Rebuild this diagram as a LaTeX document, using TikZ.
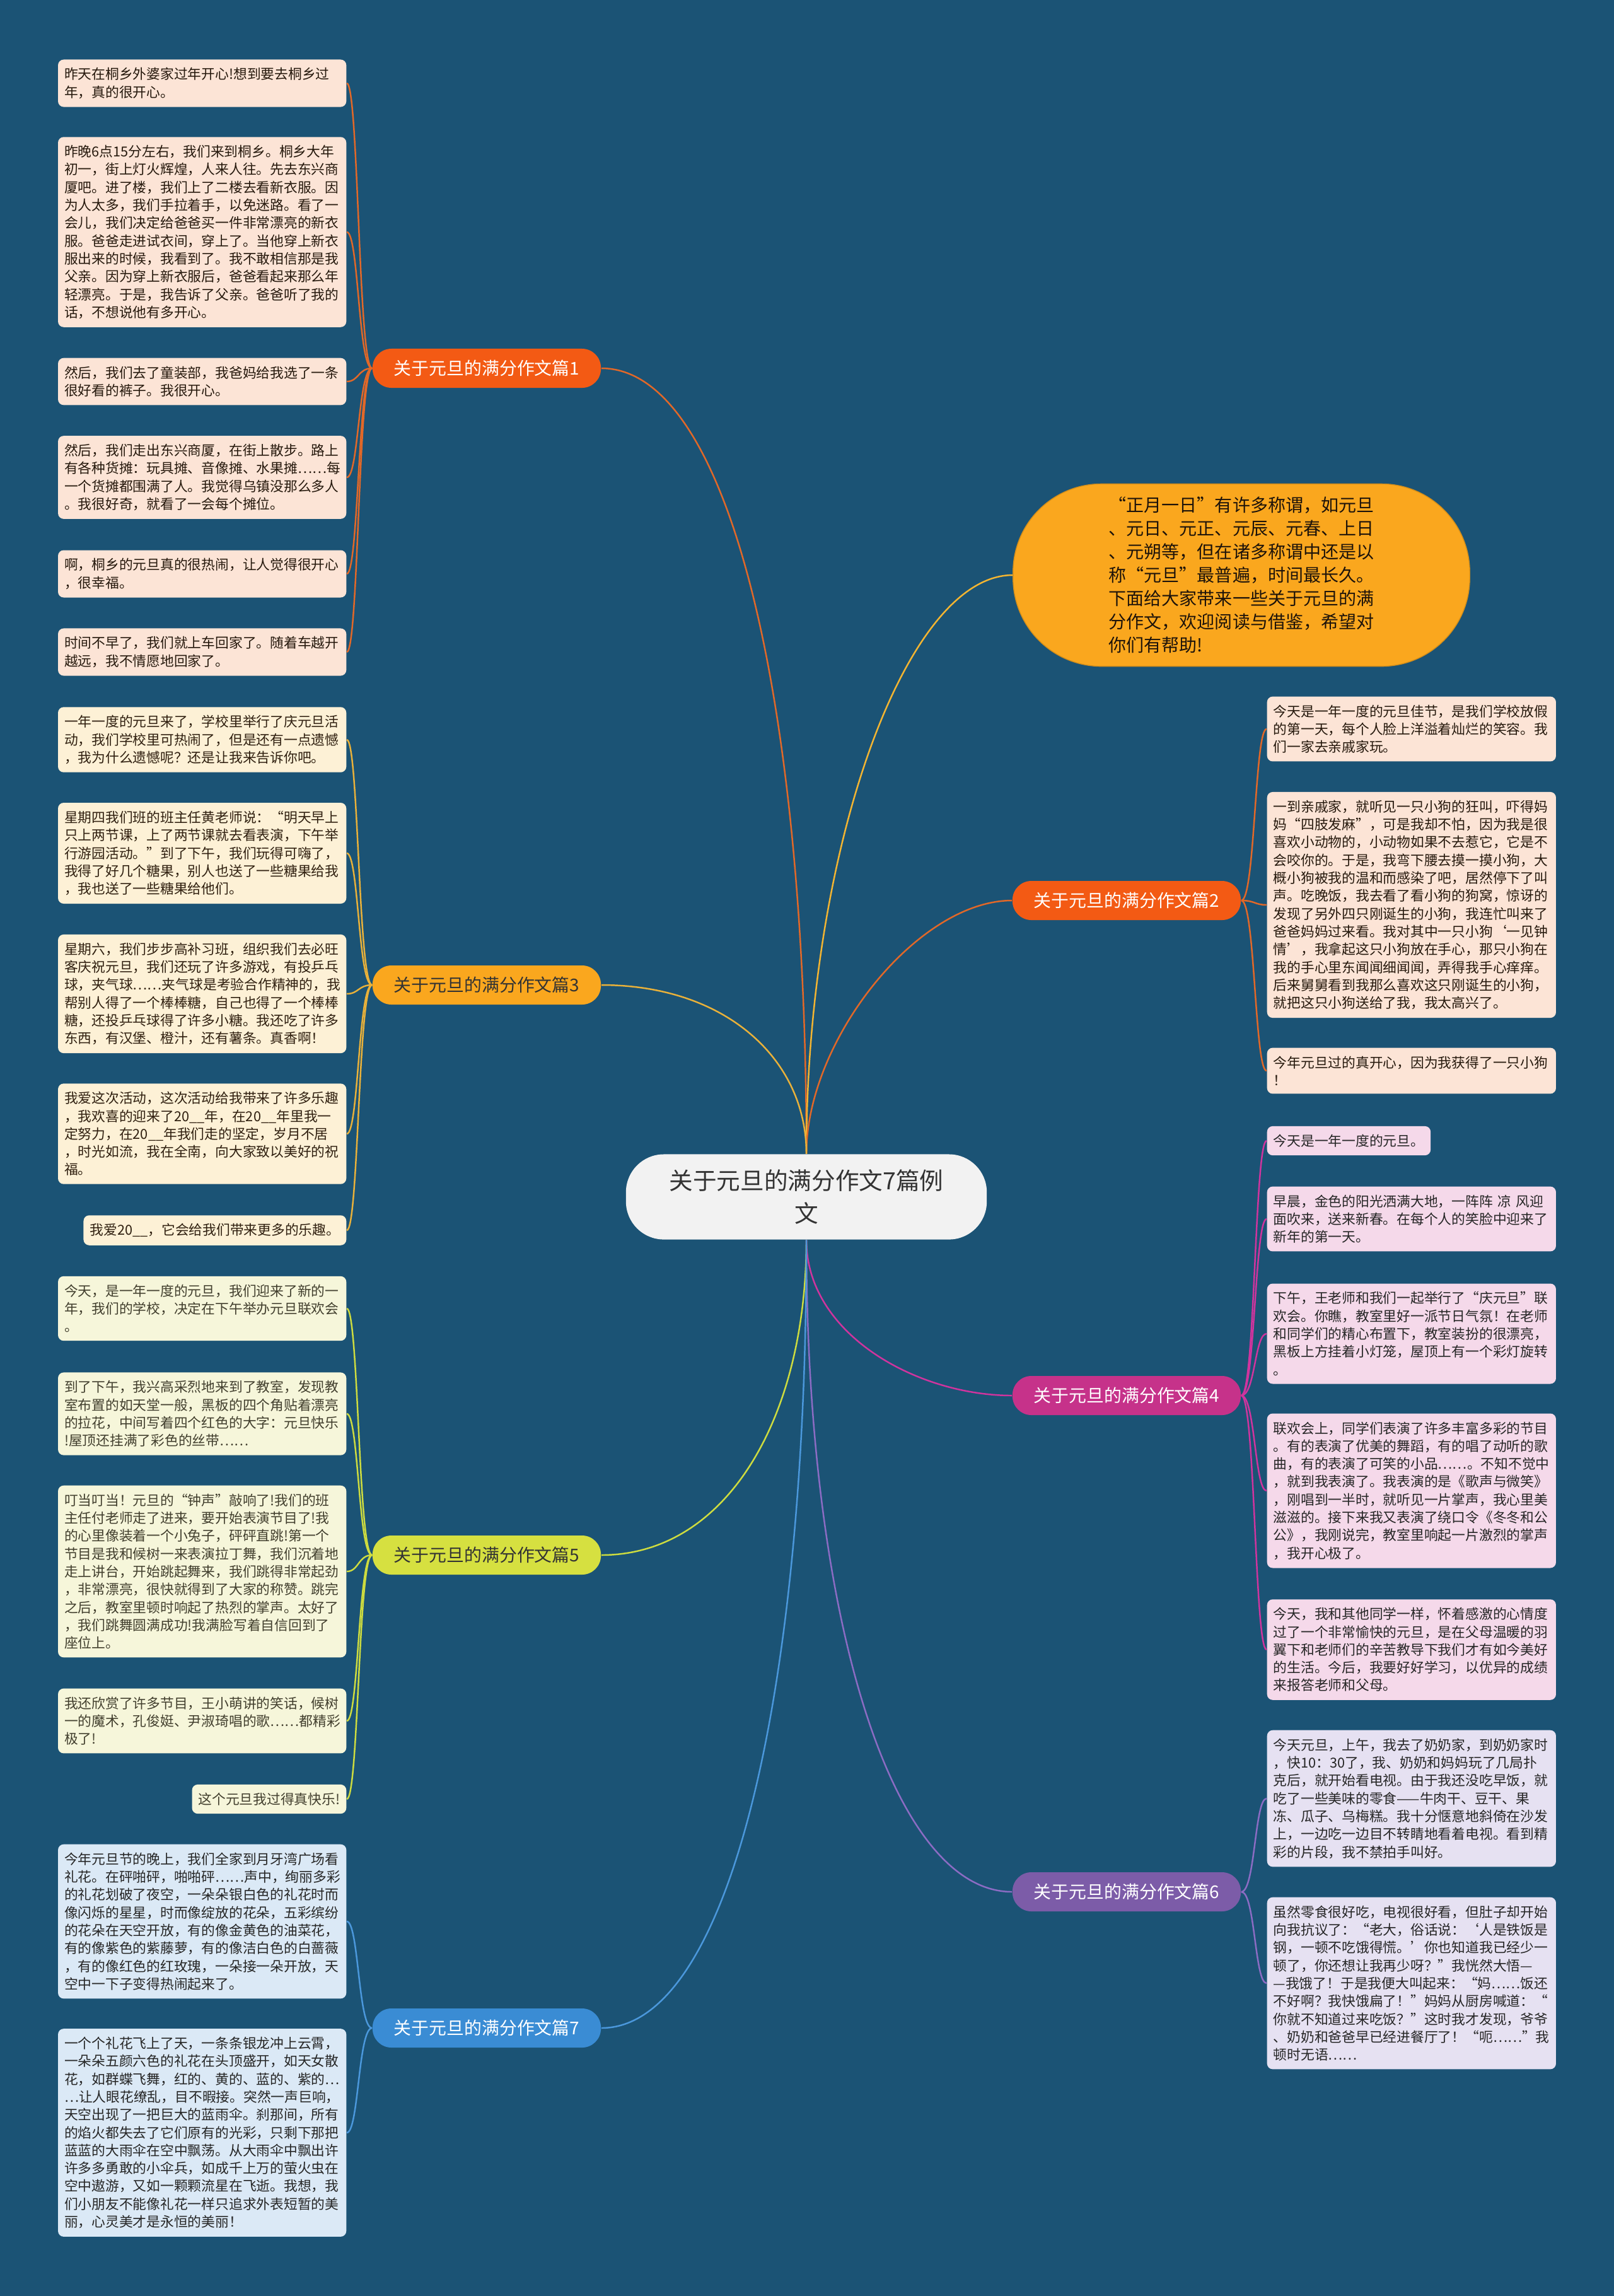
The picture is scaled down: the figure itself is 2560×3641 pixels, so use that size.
\documentclass[tikz,border=0pt]{standalone}
\usepackage{fontspec}
\setmainfont{Noto Sans CJK SC}
\usetikzlibrary{positioning}
\definecolor{bgblue}{RGB}{27,83,117}
\definecolor{orred}{RGB}{243,90,20}
\definecolor{peach}{RGB}{252,228,214}
\definecolor{amber}{RGB}{250,167,30}
\definecolor{cream}{RGB}{253,241,214}
\definecolor{magen}{RGB}{198,50,138}
\definecolor{pinkb}{RGB}{245,217,234}
\definecolor{limeg}{RGB}{214,224,64}
\definecolor{paleg}{RGB}{246,246,218}
\definecolor{purp}{RGB}{124,92,168}
\definecolor{lavb}{RGB}{230,225,242}
\definecolor{bluet}{RGB}{58,140,212}
\definecolor{skyb}{RGB}{219,233,246}
\definecolor{rootfill}{RGB}{242,242,242}
\definecolor{conn1}{RGB}{226,104,40}
\definecolor{conn3}{RGB}{233,177,58}
\definecolor{conn0}{RGB}{244,181,49}
\definecolor{conn4}{RGB}{208,52,158}
\definecolor{conn5}{RGB}{206,220,63}
\definecolor{conn6}{RGB}{140,108,196}
\definecolor{conn7}{RGB}{75,152,220}
\tikzset{topic/.style = {rounded corners=0.3cm, minimum width=3.62cm, minimum height=0.62cm,
                         text height=6.9pt, text depth=1pt, font=\fontsize{7.93pt}{9pt}\selectfont}}
\tikzset{box/.style = {rounded corners=0.09cm, align=left, inner xsep=0.1cm, inner ysep=3.7pt,
                       font=\fontsize{6.19pt}{8.05pt}\selectfont}}
\tikzset{boxl/.style = {box, anchor=east, text width=4.37cm}}
\tikzset{boxr/.style = {box, anchor=west, text width=4.38cm}}
\tikzset{shortbox/.style = {text width=, minimum width=0pt}}
\tikzset{leaf1/.style = {boxl, fill=peach, text=black!80!brown}}
\tikzset{leaf2/.style = {boxr, fill=peach, text=black!80!brown}}
\tikzset{leaf3/.style = {boxl, fill=cream, text=black!75!brown}}
\tikzset{leaf4/.style = {boxr, fill=pinkb, text=black!85}}
\tikzset{leaf5/.style = {boxl, fill=paleg, text=black!70!olive}}
\tikzset{leaf6/.style = {boxr, fill=lavb, text=black!85}}
\tikzset{leaf7/.style = {boxl, fill=skyb, text=black!85}}
\tikzset{link/.style = {line width=0.7pt}}

\begin{document}
\begin{tikzpicture}[x=0.01cm, y=-0.01cm]
  \fill[bgblue] (0,0) rectangle (2560,3641);
  \useasboundingbox (0,0) rectangle (2560,3641);

  \node (root) [rounded corners=0.6cm, fill=rootfill, text=black!80, minimum width=5.72cm, minimum height=1.35cm,
    align=center, font=\fontsize{10.7pt}{14.8pt}\selectfont] at (1279,1898) {关于元旦的满分作文7篇例\\文};

  \node (intro) [rounded corners=1.4cm, fill=amber, draw=amber!85!black, line width=0.4pt, minimum width=7.24cm,
    minimum height=2.89cm, align=left, text=black!85!brown, font=\fontsize{7.97pt}{10.5pt}\selectfont] at (1969,912)
    {“正月一日”有许多称谓，如元旦\\、元日、元正、元辰、元春、上日\\、元朔等，但在诸多称谓中还是以\\称“元旦”最普遍，时间最长久。\\下面给大家带来一些关于元旦的满\\分作文，欢迎阅读与借鉴，希望对\\你们有帮助!};

  \node (t1) [topic, fill=orred, text=white] at (772,584) {关于元旦的满分作文篇1};
  \node (t2) [topic, fill=orred, text=white] at (1787,1428) {关于元旦的满分作文篇2};
  \node (t3) [topic, fill=amber, text=black!80] at (772,1562) {关于元旦的满分作文篇3};
  \node (t4) [topic, fill=magen, text=white] at (1787,2213) {关于元旦的满分作文篇4};
  \node (t5) [topic, fill=limeg, text=black!80] at (772,2466) {关于元旦的满分作文篇5};
  \node (t6) [topic, fill=purp, text=white] at (1787,3000) {关于元旦的满分作文篇6};
  \node (t7) [topic, fill=bluet, text=white] at (772,3216) {关于元旦的满分作文篇7};

  \node (t1a) [leaf1] at (550,132) {昨天在桐乡外婆家过年开心!想到要去桐乡过\\年，真的很开心。};
  \node (t1b) [leaf1] at (550,368) {昨晚6点15分左右，我们来到桐乡。桐乡大年\\初一，街上灯火辉煌，人来人往。先去东兴商\\厦吧。进了楼，我们上了二楼去看新衣服。因\\为人太多，我们手拉着手，以免迷路。看了一\\会儿，我们决定给爸爸买一件非常漂亮的新衣\\服。爸爸走进试衣间，穿上了。当他穿上新衣\\服出来的时候，我看到了。我不敢相信那是我\\父亲。因为穿上新衣服后，爸爸看起来那么年\\轻漂亮。于是，我告诉了父亲。爸爸听了我的\\话，不想说他有多开心。};
  \node (t1c) [leaf1] at (550,605) {然后，我们去了童装部，我爸妈给我选了一条\\很好看的裤子。我很开心。};
  \node (t1d) [leaf1] at (550,757) {然后，我们走出东兴商厦，在街上散步。路上\\有各种货摊：玩具摊、音像摊、水果摊……每\\一个货摊都围满了人。我觉得乌镇没那么多人\\。我很好奇，就看了一会每个摊位。};
  \node (t1e) [leaf1] at (550,910) {啊，桐乡的元旦真的很热闹，让人觉得很开心\\，很幸福。};
  \node (t1f) [leaf1] at (550,1034) {时间不早了，我们就上车回家了。随着车越开\\越远，我不情愿地回家了。};

  \node (t3a) [leaf3] at (550,1173) {一年一度的元旦来了，学校里举行了庆元旦活\\动，我们学校里可热闹了，但是还有一点遗憾\\，我为什么遗憾呢？还是让我来告诉你吧。};
  \node (t3b) [leaf3] at (550,1353) {星期四我们班的班主任黄老师说：“明天早上\\只上两节课，上了两节课就去看表演，下午举\\行游园活动。”到了下午，我们玩得可嗨了，\\我得了好几个糖果，别人也送了一些糖果给我\\，我也送了一些糖果给他们。};
  \node (t3c) [leaf3] at (550,1576) {星期六，我们步步高补习班，组织我们去必旺\\客庆祝元旦，我们还玩了许多游戏，有投乒乓\\球，夹气球……夹气球是考验合作精神的，我\\帮别人得了一个棒棒糖，自己也得了一个棒棒\\糖，还投乒乓球得了许多小糖。我还吃了许多\\东西，有汉堡、橙汁，还有薯条。真香啊！};
  \node (t3d) [leaf3] at (550,1798) {我爱这次活动，这次活动给我带来了许多乐趣\\，我欢喜的迎来了20\_\_年，在20\_\_年里我一\\定努力，在20\_\_年我们走的坚定，岁月不居\\，时光如流，我在全南，向大家致以美好的祝\\福。};
  \node (t3e) [leaf3, shortbox] at (550,1951) {我爱20\_\_，它会给我们带来更多的乐趣。};

  \node (t5a) [leaf5] at (550,2075) {今天，是一年一度的元旦，我们迎来了新的一\\年，我们的学校，决定在下午举办元旦联欢会\\。};
  \node (t5b) [leaf5] at (550,2242) {到了下午，我兴高采烈地来到了教室，发现教\\室布置的如天堂一般，黑板的四个角贴着漂亮\\的拉花，中间写着四个红色的大字：元旦快乐\\!屋顶还挂满了彩色的丝带……};
  \node (t5c) [leaf5] at (550,2492) {叮当叮当！元旦的“钟声”敲响了!我们的班\\主任付老师走了进来，要开始表演节目了!我\\的心里像装着一个小兔子，砰砰直跳!第一个\\节目是我和候树一来表演拉丁舞，我们沉着地\\走上讲台，开始跳起舞来，我们跳得非常起劲\\，非常漂亮，很快就得到了大家的称赞。跳完\\之后，教室里顿时响起了热烈的掌声。太好了\\，我们跳舞圆满成功!我满脸写着自信回到了\\座位上。};
  \node (t5d) [leaf5] at (550,2729) {我还欣赏了许多节目，王小萌讲的笑话，候树\\一的魔术，孔俊娗、尹淑琦唱的歌……都精彩\\极了!};
  \node (t5e) [leaf5, shortbox] at (550,2853) {这个元旦我过得真快乐!};

  \node (t7a) [leaf7] at (550,3047) {今年元旦节的晚上，我们全家到月牙湾广场看\\礼花。在砰啪砰，啪啪砰……声中，绚丽多彩\\的礼花划破了夜空，一朵朵银白色的礼花时而\\像闪烁的星星，时而像绽放的花朵，五彩缤纷\\的花朵在天空开放，有的像金黄色的油菜花，\\有的像紫色的紫藤萝，有的像洁白色的白蔷薇\\，有的像红色的红玫瑰，一朵接一朵开放，天\\空中一下子变得热闹起来了。};
  \node (t7b) [leaf7] at (550,3382) {一个个礼花飞上了天，一条条银龙冲上云霄，\\一朵朵五颜六色的礼花在头顶盛开，如天女散\\花，如群蝶飞舞，红的、黄的、蓝的、紫的…\\…让人眼花缭乱，目不暇接。突然一声巨响，\\天空出现了一把巨大的蓝雨伞。刹那间，所有\\的焰火都失去了它们原有的光彩，只剩下那把\\蓝蓝的大雨伞在空中飘荡。从大雨伞中飘出许\\许多多勇敢的小伞兵，如成千上万的萤火虫在\\空中遨游，又如一颗颗流星在飞逝。我想，我\\们小朋友不能像礼花一样只追求外表短暂的美\\丽，心灵美才是永恒的美丽！};

  \node (t2a) [leaf2] at (2009,1156) {今天是一年一度的元旦佳节，是我们学校放假\\的第一天，每个人脸上洋溢着灿烂的笑容。我\\们一家去亲戚家玩。};
  \node (t2b) [leaf2] at (2009,1435) {一到亲戚家，就听见一只小狗的狂叫，吓得妈\\妈“四肢发麻”，可是我却不怕，因为我是很\\喜欢小动物的，小动物如果不去惹它，它是不\\会咬你的。于是，我弯下腰去摸一摸小狗，大\\概小狗被我的温和而感染了吧，居然停下了叫\\声。吃晚饭，我去看了看小狗的狗窝，惊讶的\\发现了另外四只刚诞生的小狗，我连忙叫来了\\爸爸妈妈过来看。我对其中一只小狗‘一见钟\\情’，我拿起这只小狗放在手心，那只小狗在\\我的手心里东闻闻细闻闻，弄得我手心痒痒。\\后来舅舅看到我那么喜欢这只刚诞生的小狗，\\就把这只小狗送给了我，我太高兴了。};
  \node (t2c) [leaf2] at (2009,1698) {今年元旦过的真开心，因为我获得了一只小狗\\！};

  \node (t4a) [leaf4, shortbox] at (2009,1809) {今天是一年一度的元旦。};
  \node (t4b) [leaf4] at (2009,1933) {早晨，金色的阳光洒满大地，一阵阵 凉 风迎\\面吹来，送来新春。在每个人的笑脸中迎来了\\新年的第一天。};
  \node (t4c) [leaf4] at (2009,2115) {下午，王老师和我们一起举行了“庆元旦”联\\欢会。你瞧，教室里好一派节日气氛！在老师\\和同学们的精心布置下，教室装扮的很漂亮，\\黑板上方挂着小灯笼，屋顶上有一个彩灯旋转\\。};
  \node (t4d) [leaf4] at (2009,2364) {联欢会上，同学们表演了许多丰富多彩的节目\\。有的表演了优美的舞蹈，有的唱了动听的歌\\曲，有的表演了可笑的小品……。不知不觉中\\，就到我表演了。我表演的是《歌声与微笑》\\，刚唱到一半时，就听见一片掌声，我心里美\\滋滋的。接下来我又表演了绕口令《冬冬和公\\公》，我刚说完，教室里响起一片激烈的掌声\\，我开心极了。};
  \node (t4e) [leaf4] at (2009,2616) {今天，我和其他同学一样，怀着感激的心情度\\过了一个非常愉快的元旦，是在父母温暖的羽\\翼下和老师们的辛苦教导下我们才有如今美好\\的生活。今后，我要好好学习，以优异的成绩\\来报答老师和父母。};

  \node (t6a) [leaf6] at (2009,2852) {今天元旦，上午，我去了奶奶家，到奶奶家时\\，快10：30了，我、奶奶和妈妈玩了几局扑\\克后，就开始看电视。由于我还没吃早饭，就\\吃了一些美味的零食——牛肉干、豆干、果\\冻、瓜子、乌梅糕。我十分惬意地斜倚在沙发\\上，一边吃一边目不转睛地看着电视。看到精\\彩的片段，我不禁拍手叫好。};
  \node (t6b) [leaf6] at (2009,3145) {虽然零食很好吃，电视很好看，但肚子却开始\\向我抗议了：“老大，俗话说：‘人是铁饭是\\钢，一顿不吃饿得慌。’你也知道我已经少一\\顿了，你还想让我再少呀？”我恍然大悟—\\—我饿了！于是我便大叫起来：“妈……饭还\\不好啊？我快饿扁了！”妈妈从厨房喊道：“\\你就不知道过来吃饭？”这时我才发现，爷爷\\、奶奶和爸爸早已经进餐厅了！“呃……”我\\顿时无语……};

  \draw [link, conn1] (t1.east) .. controls +(200,0) and +(0,-730) .. (root.north);
  \draw [link, conn0] (intro.west) .. controls +(-170,0) and +(0,-480) .. (root.north);
  \draw [link, conn1] (t2.west) .. controls +(-150,0) and +(0,-180) .. (root.north);
  \draw [link, conn3] (t3.east) .. controls +(197,0) and +(0,-150) .. (root.north);
  \draw [link, conn4] (t4.west) .. controls +(-150,0) and +(0,150) .. (root.south);
  \draw [link, conn5] (t5.east) .. controls +(200,0) and +(0,280) .. (root.south);
  \draw [link, conn6] (t6.west) .. controls +(-190,0) and +(0,600) .. (root.south);
  \draw [link, conn7] (t7.east) .. controls +(200,0) and +(0,730) .. (root.south);

  \foreach \c in {a,b,c,d,e,f}
    \draw [link, conn1] (t1.west) .. controls +(-22,0) and +(19,0) .. (t1\c.east);
  \foreach \c in {a,b,c,d,e}
    \draw [link, conn3] (t3.west) .. controls +(-22,0) and +(19,0) .. (t3\c.east);
  \foreach \c in {a,b,c,d,e}
    \draw [link, conn5] (t5.west) .. controls +(-22,0) and +(19,0) .. (t5\c.east);
  \foreach \c in {a,b}
    \draw [link, conn7] (t7.west) .. controls +(-22,0) and +(19,0) .. (t7\c.east);
  \foreach \c in {a,b,c}
    \draw [link, conn1] (t2.east) .. controls +(22,0) and +(-19,0) .. (t2\c.west);
  \foreach \c in {a,b,c,d,e}
    \draw [link, conn4] (t4.east) .. controls +(22,0) and +(-19,0) .. (t4\c.west);
  \foreach \c in {a,b}
    \draw [link, conn6] (t6.east) .. controls +(22,0) and +(-19,0) .. (t6\c.west);
\end{tikzpicture}
\end{document}
